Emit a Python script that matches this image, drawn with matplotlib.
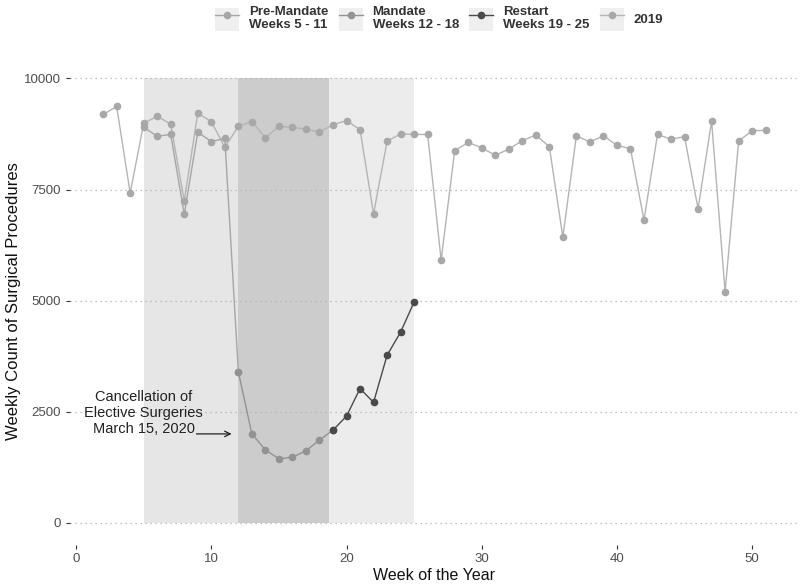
import matplotlib
matplotlib.use('Agg')
import matplotlib.pyplot as plt
from matplotlib.patches import Rectangle
from matplotlib.legend_handler import HandlerLine2D

plt.rcParams['font.family'] = ['Liberation Sans', 'DejaVu Sans']

# weekly counts
weeks_2019 = list(range(2, 52))
counts_2019 = [9190, 9370, 7420, 8990, 9150, 8970, 7250, 9220, 9030, 8450,
               8920, 9030, 8665, 8920, 8900, 8860, 8790, 8960, 9050, 8850,
               6950, 8585, 8755, 8740, 8740, 5910, 8375, 8560, 8440, 8270,
               8410, 8600, 8725, 8465, 6430, 8710, 8570, 8710, 8495, 8420,
               6810, 8740, 8635, 8690, 7065, 9040, 5200, 8590, 8825, 8830]

weeks_2020 = list(range(5, 26))
counts_2020 = [8900, 8700, 8740, 6940, 8790, 8580, 8650,
               3400, 2000, 1640, 1440, 1475, 1620, 1860,
               2085, 2400, 3020, 2710, 3770, 4290, 4970]

periods = ['Pre-Mandate\nWeeks 5 - 11', 'Mandate\nWeeks 12 - 18', 'Restart\nWeeks 19 - 25']
period_start = [5, 12, 19]
period_end = [12, 19, 25]
shade_span = [(5, 12), (12, 18.7), (18.7, 25)]
shade_col = ['#e6e6e6', '#cccccc', '#ececec']
line_col = ['#a6a6a6', '#939393', '#4a4a4a']
col_2019 = '#b4b4b4'


class KeyBox(HandlerLine2D):
    # ggplot style key with grey background
    def create_artists(self, legend, orig_handle, xdescent, ydescent,
                       width, height, fontsize, trans):
        box = Rectangle((-xdescent, -ydescent), width, height,
                        facecolor='#efefef', edgecolor='none', transform=trans)
        arts = super().create_artists(legend, orig_handle, xdescent, ydescent,
                                      width, height, fontsize, trans)
        return [box] + list(arts)


fig = plt.figure(figsize=(8, 5.86), dpi=100)
ax = fig.add_axes([0.0875, 0.07, 0.911, 0.834])

for (a, b), c in zip(shade_span, shade_col):
    ax.axvspan(a, b, ymin=500 / 11000, ymax=10500 / 11000, color=c, lw=0, zorder=0.2)

handles = []
for lab, s, e, c in zip(periods, period_start, period_end, line_col):
    i0 = weeks_2020.index(s)
    i1 = weeks_2020.index(e) + 1
    h, = ax.plot(weeks_2020[i0:i1], counts_2020[i0:i1], color=c, lw=1.0,
                 marker='o', ms=4.5, mec=c, label=lab, zorder=3)
    handles.append(h)

h19, = ax.plot(weeks_2019, counts_2019, color=col_2019, lw=1.0, marker='o',
               ms=4.5, mfc='#a8a8a8', mec='#a8a8a8', label='2019', zorder=2.5)
handles.append(h19)

ax.text(5.0, 2470, 'Cancellation of\nElective Surgeries\nMarch 15, 2020',
        ha='center', va='center', fontsize=10.5, color='#222222', linespacing=1.15)
ax.annotate('', xy=(11.5, 2000), xytext=(8.9, 2000),
            arrowprops=dict(arrowstyle='->', color='#222222', lw=0.9,
                            shrinkA=0, shrinkB=0))

ax.set_xlim(-0.45, 53.45)
ax.set_ylim(-500, 10500)
ax.set_xticks([0, 10, 20, 30, 40, 50])
ax.set_yticks([0, 2500, 5000, 7500, 10000])
ax.set_axisbelow(True)
ax.yaxis.grid(True, linestyle=(0, (1, 3)), color='#b0b0b0', lw=0.9)
ax.xaxis.grid(False)
for sp in ax.spines.values():
    sp.set_visible(False)
ax.tick_params(axis='both', colors='#333333', labelcolor='#4d4d4d',
               labelsize=9.5, length=3, width=0.8)
ax.tick_params(axis='x', pad=3)
ax.set_xlabel('Week of the Year', fontsize=11.5, color='#111111', labelpad=2)
ax.set_ylabel('Weekly Count of Surgical Procedures', fontsize=12,
              color='#111111', labelpad=2)

leg = fig.legend(handles=handles, labels=[h.get_label() for h in handles],
                 loc='center', bbox_to_anchor=(0.549, 0.968), ncol=4,
                 frameon=False, prop={'weight': 'bold', 'size': 9.5},
                 handlelength=1.8, handleheight=2.3, handletextpad=0.75,
                 columnspacing=0.8, borderpad=0.2,
                 handler_map={h: KeyBox() for h in handles})
for t in leg.get_texts():
    t.set_color('#333333')
    t.set_linespacing(1.1)

fig.savefig('out.png', dpi=100)
